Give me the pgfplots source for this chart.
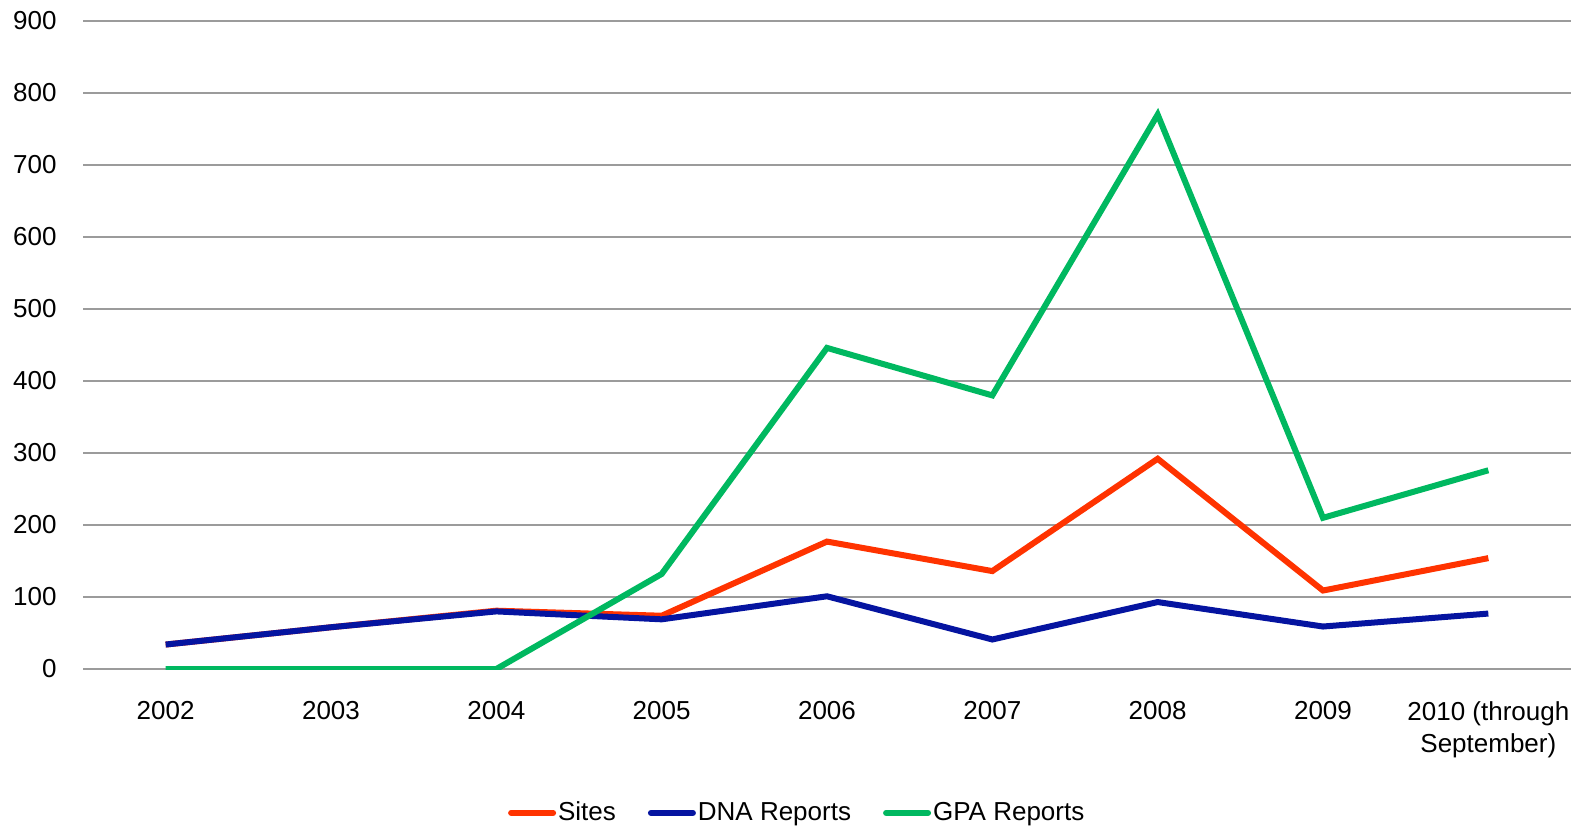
\documentclass[border=0pt]{standalone}
\usepackage{fontspec}
\setmainfont{Liberation Sans}
\usepackage{pgfplots}
\pgfplotsset{compat=1.18}
\definecolor{cRed}{RGB}{255,51,0}
\definecolor{cBlue}{RGB}{5,20,160}
\definecolor{cGreen}{RGB}{0,184,96}
\definecolor{cGrid}{RGB}{155,155,155}
\begin{document}
\begin{tikzpicture}
\useasboundingbox (-41.5pt,-79pt) rectangle (751pt,334.5pt);
\begin{axis}[
  scale only axis,
  width=744pt, height=324pt,
  at={(0,0)}, anchor=south west,
  xmin=-0.5, xmax=8.5,
  ymin=0, ymax=900,
  ytick={0,100,...,900},
  xtick={0,...,8},
  xticklabels={2002,2003,2004,2005,2006,2007,2008,2009,{2010 (through\\September)}},
  axis line style={draw=none},
  major tick length=0pt,
  ymajorgrids,
  grid style={cGrid, line width=1pt},
  font=\fontsize{13}{16.2}\selectfont,
  /pgf/number format/assume math mode=true,
  yticklabel style={inner sep=0pt, xshift=-13pt},
  xticklabel style={align=center, anchor=north, inner sep=0pt, yshift=-16pt},
  legend columns=3,
  legend style={at={(0.48,-0.222)}, anchor=center, draw=none, font=\fontsize{13}{14}\selectfont,
    nodes={inner sep=1pt},
    /tikz/every even column/.append style={column sep=15pt}, inner sep=0pt},
  legend image code/.code={\draw[#1, line cap=round] (0pt,0pt) -- (21pt,0pt);},
  every axis plot/.append style={line width=3pt, line join=miter},
]
\addplot[cRed] coordinates {(0,34) (1,58) (2,81) (3,74) (4,177) (5,136) (6,292) (7,109) (8,154)};
\addlegendentry{Sites}
\addplot[cBlue] coordinates {(0,34) (1,58) (2,80) (3,69) (4,101) (5,41) (6,93) (7,59) (8,77)};
\addlegendentry{DNA Reports}
\addplot[cGreen] coordinates {(0,0) (1,0) (2,0) (3,132) (4,446) (5,380) (6,770) (7,210) (8,276)};
\addlegendentry{GPA Reports}
\end{axis}
\end{tikzpicture}
\end{document}
